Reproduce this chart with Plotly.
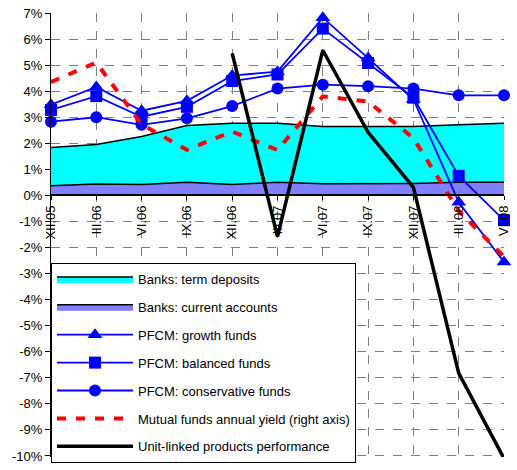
import plotly.graph_objects as go

# Quarter-end labels
periods = ["XII.05", "III.06", "VI.06", "IX.06", "XII.06", "III.07",
           "VI.07", "IX.07", "XII.07", "III.08", "VI.08"]

# Annual yields, %
term_deposits = [1.84, 1.95, 2.26, 2.68, 2.77, 2.77, 2.64, 2.64, 2.64, 2.71, 2.77]
current_accounts = [0.37, 0.44, 0.42, 0.50, 0.42, 0.50, 0.45, 0.46, 0.46, 0.50, 0.50]
pfcm_growth = [3.48, 4.16, 3.25, 3.63, 4.60, 4.75, 6.82, 5.27, 3.68, -0.26, -2.56]
pfcm_balanced = [3.28, 3.81, 3.02, 3.40, 4.39, 4.64, 6.40, 5.08, 3.75, 0.75, -0.95]
pfcm_conservative = [2.83, 3.00, 2.71, 2.96, 3.43, 4.10, 4.25, 4.19, 4.10, 3.84, 3.84]
mutual_funds = [4.35, 5.10, 2.72, 1.75, 2.45, 1.74, 3.80, 3.60, 2.20, -0.60, -2.35]
unit_linked_x = ["XII.06", "III.07", "VI.07", "IX.07", "XII.07", "III.08", "VI.08"]
unit_linked = [5.45, -1.58, 5.57, 2.42, 0.31, -6.82, -10.1]

y_tick_values = list(range(-10, 8))
y_tick_labels = [f"{v}%" for v in y_tick_values]

FONT = "Liberation Sans, Arial, sans-serif"
BLUE = "#0000FF"

fig = go.Figure()

fig.add_trace(go.Scatter(
    x=periods, y=term_deposits, name="Banks: term deposits",
    mode="lines", fill="tozeroy", fillcolor="#00FFFF",
    line=dict(color="black", width=1.5), legendgroup="g1"))
fig.add_trace(go.Scatter(
    x=periods, y=current_accounts, name="Banks: current accounts",
    mode="lines", fill="tozeroy", fillcolor="#8080FF",
    line=dict(color="black", width=1.5), legendgroup="g2"))

for name, vals, sym, size, grp in [
    ("PFCM: growth funds", pfcm_growth, "triangle-up", 13, "g3"),
    ("PFCM: balanced funds", pfcm_balanced, "square", 12, "g4"),
    ("PFCM: conservative funds", pfcm_conservative, "circle", 12, "g5"),
]:
    fig.add_trace(go.Scatter(
        x=periods, y=vals, name=name, mode="lines+markers",
        line=dict(color=BLUE, width=1.8),
        marker=dict(symbol=sym, size=size, color=BLUE),
        cliponaxis=False, legendgroup=grp))

fig.add_trace(go.Scatter(
    x=periods, y=mutual_funds, name="Mutual funds annual yield (right axis)",
    mode="lines", line=dict(color="#FF0000", width=4, dash="9px,10px"),
    legendgroup="g6"))
fig.add_trace(go.Scatter(
    x=unit_linked_x, y=unit_linked, name="Unit-linked products performance",
    mode="lines", line=dict(color="black", width=3.5), legendgroup="g7"))

fig.update_layout(
    width=517, height=470,
    margin=dict(l=51, r=6, t=13, b=7),
    paper_bgcolor="white", plot_bgcolor="white",
    font=dict(family=FONT, size=13, color="black"),
    showlegend=True,
    legend=dict(
        x=0, y=0.437, xanchor="left", yanchor="top",
        bgcolor="white", bordercolor="black", borderwidth=1,
        font=dict(family=FONT, size=13, color="black"),
        itemwidth=76, tracegroupgap=8, traceorder="grouped",
        entrywidth=345,
    ),
    xaxis=dict(
        type="category", categoryorder="array", categoryarray=periods,
        range=[0, len(periods) - 1],
        anchor="free", position=10.04 / 17.04,
        showline=True, linecolor="black", linewidth=2,
        ticks="outside", ticklen=4, tickcolor="black",
        tickangle=-90, tickfont=dict(family=FONT, size=13, color="black"),
        showgrid=True, gridcolor="#808080", gridwidth=1, griddash="dash",
        zeroline=False,
    ),
    yaxis=dict(
        range=[-10.04, 7], tickvals=y_tick_values, ticktext=y_tick_labels,
        showline=True, linecolor="black", linewidth=1,
        ticks="outside", ticklen=5, tickcolor="black",
        tickfont=dict(family=FONT, size=13, color="black"),
        showgrid=True, gridcolor="#808080", gridwidth=1, griddash="dash",
        zeroline=False,
    ),
)

fig.write_html("out.html")
